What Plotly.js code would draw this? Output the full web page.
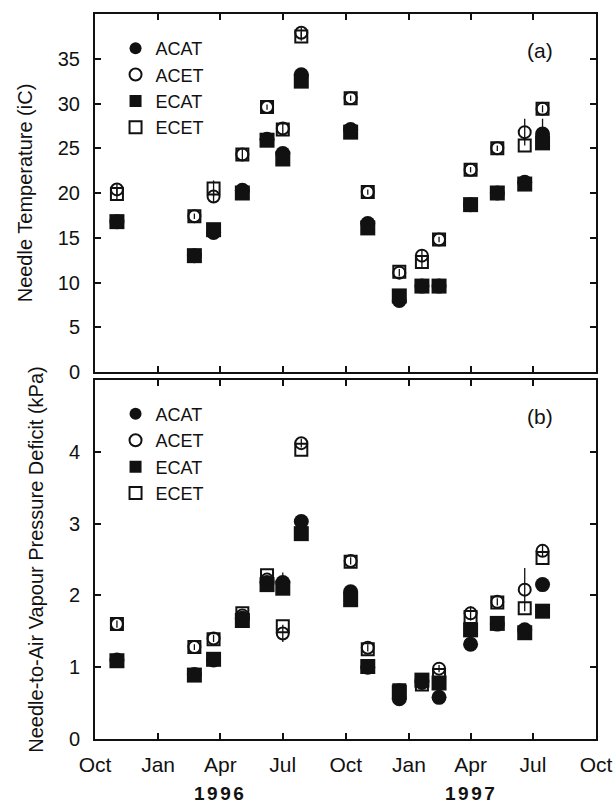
<!DOCTYPE html>
<html>
<head>
<meta charset="utf-8">
<script src="https://cdn.plot.ly/plotly-3.0.1.min.js"></script>
<style>html,body{margin:0;padding:0;background:#fff;}#chart{width:616px;height:803px;}</style>
</head>
<body>
<div id="chart"></div>
<script>
// ---- Data ----
const sampleDates = ['1995-11-02','1996-02-23','1996-03-22','1996-05-03','1996-06-08','1996-07-01','1996-07-28',
  '1996-10-08','1996-11-02','1996-12-18','1997-01-20','1997-02-14','1997-04-01','1997-05-10','1997-06-19','1997-07-15'];

// (a) Needle temperature (°C)
const tempACAT = [16.8, 13.0, 15.6, 20.3, 26.0, 24.4, 33.2, 27.1, 16.6, 8.0, 9.6, 9.6, 18.7, 20.0, 21.2, 26.6];
const tempACET = [20.4, 17.4, 19.6, 24.3, 29.6, 27.2, 37.9, 30.6, 20.1, 11.1, 13.0, 14.8, 22.6, 25.0, 26.8, 29.4];
const tempECAT = [16.8, 13.0, 15.9, 20.0, 25.9, 23.8, 32.5, 26.8, 16.1, 8.5, 9.6, 9.6, 18.7, 20.0, 21.0, 25.6];
const tempECET = [19.9, 17.4, 20.5, 24.3, 29.6, 27.1, 37.5, 30.6, 20.1, 11.2, 12.3, 14.8, 22.6, 25.0, 25.3, 29.4];
const tempACATerr = [0, 0, 0, 0, 0, 0.6, 0, 0, 0, 0, 0, 0, 0, 0, 0, 1.7];
const tempACETerr = [0.7, 0.3, 0.7, 0.6, 0.3, 0.6, 0.6, 0.3, 0.3, 0.4, 0.7, 0.3, 0.3, 0.3, 1.5, 0.4];
const tempECETerr = [0.6, 0, 0.9, 0, 0, 0, 0.5, 0, 0, 0, 0.6, 0, 0, 0, 0, 0];

// (b) Needle-to-air vapour pressure deficit (kPa)
const vpdACAT = [1.10, 0.90, 1.10, 1.68, 2.18, 2.18, 3.03, 2.05, 1.00, 0.56, 0.80, 0.58, 1.32, 1.60, 1.52, 2.15];
const vpdACET = [1.60, 1.28, 1.40, 1.72, 2.22, 1.47, 4.12, 2.48, 1.27, 0.68, 0.78, 0.98, 1.75, 1.91, 2.08, 2.62];
const vpdECAT = [1.09, 0.89, 1.11, 1.65, 2.15, 2.10, 2.86, 1.94, 1.01, 0.65, 0.82, 0.78, 1.52, 1.61, 1.48, 1.78];
const vpdECET = [1.60, 1.28, 1.39, 1.75, 2.28, 1.57, 4.03, 2.47, 1.25, 0.68, 0.76, 0.89, 1.70, 1.90, 1.82, 2.52];
const vpdACATerr = [0, 0, 0, 0, 0, 0.14, 0, 0, 0, 0, 0, 0, 0, 0, 0, 0];
const vpdACETerr = [0.05, 0.04, 0.05, 0.05, 0.05, 0.12, 0.06, 0.05, 0.05, 0.03, 0.03, 0.05, 0.1, 0.05, 0.3, 0.08];

const seriesNames = ['ACAT', 'ACET', 'ECAT', 'ECET'];
const xTickVals = ['1995-10-01','1996-01-01','1996-04-01','1996-07-01','1996-10-01','1997-01-01','1997-04-01','1997-07-01','1997-10-01'];
const xTickText = ['Oct','Jan','Apr','Jul','Oct','Jan','Apr','Jul','Oct'];
const yearLabels = ['1996', '1997'];
const yearPositions = ['1996-04-01', '1997-04-01'];
const tempTicks = [0, 5, 10, 15, 20, 25, 30, 35];
const vpdTicks = [0, 1, 2, 3, 4];

// ---- Styling ----
const FONT = 'Liberation Sans, Arial, Helvetica, sans-serif';
const styles = {
  ACAT: {symbol: 'circle', size: 15, color: '#111', line: {width: 0}},
  ACET: {symbol: 'circle-open', size: 12, color: '#111', line: {width: 2, color: '#111'}},
  ECAT: {symbol: 'square', size: 15, color: '#111', line: {width: 0}},
  ECET: {symbol: 'square-open', size: 12, color: '#111', line: {width: 2, color: '#111'}}
};
const drawOrder = ['ACAT', 'ECAT', 'ACET', 'ECET'];
const rank = {ACAT: 1, ACET: 2, ECAT: 3, ECET: 4};

function makeTrace(name, y, err, xa, ya, legend) {
  const t = {
    type: 'scatter', mode: 'markers', name: name,
    x: sampleDates, y: y, xaxis: xa, yaxis: ya,
    marker: styles[name], legend: legend, legendrank: rank[name],
    cliponaxis: false
  };
  if (err) t.error_y = {type: 'data', array: err, visible: true, color: '#111', thickness: 1.3, width: 0};
  return t;
}
const tempData = {ACAT: [tempACAT, tempACATerr], ACET: [tempACET, tempACETerr], ECAT: [tempECAT, null], ECET: [tempECET, tempECETerr]};
const vpdData = {ACAT: [vpdACAT, vpdACATerr], ACET: [vpdACET, vpdACETerr], ECAT: [vpdECAT, null], ECET: [vpdECET, null]};

const traces = [];
drawOrder.forEach(n => traces.push(makeTrace(n, tempData[n][0], tempData[n][1], 'x2', 'y2', 'legend')));
drawOrder.forEach(n => traces.push(makeTrace(n, vpdData[n][0], vpdData[n][1], 'x', 'y', 'legend2')));

const axisCommon = {
  showline: true, linewidth: 2, linecolor: '#111', mirror: 'ticks',
  ticks: 'inside', ticklen: 6, tickwidth: 2, tickcolor: '#111',
  showgrid: false, zeroline: false,
  tickfont: {family: FONT, size: 20, color: '#111'}
};
const legendCommon = {
  x: 0.041, xanchor: 'left', bgcolor: 'rgba(0,0,0,0)', borderwidth: 0,
  itemsizing: 'constant', tracegroupgap: 0,
  font: {family: FONT, size: 18, color: '#111'}
};
const titleFont = {family: FONT, size: 20, color: '#111'};

const layout = {
  width: 616, height: 803,
  margin: {l: 95, r: 20, t: 14, b: 64},
  paper_bgcolor: '#fff', plot_bgcolor: '#fff',
  font: {family: FONT, color: '#111'},
  showlegend: true,
  xaxis: Object.assign({}, axisCommon, {
    type: 'date', range: ['1995-10-01', '1997-10-01'], anchor: 'y',
    tickmode: 'array', tickvals: xTickVals, ticktext: xTickText, ticklabelstandoff: 6,
    tickfont: {family: FONT, size: 21, color: '#111'}
  }),
  xaxis2: Object.assign({}, axisCommon, {
    type: 'date', range: ['1995-10-01', '1997-10-01'], anchor: 'y2', matches: 'x',
    tickmode: 'array', tickvals: xTickVals, showticklabels: false
  }),
  yaxis: Object.assign({}, axisCommon, {
    domain: [0, 0.4952], range: [0, 5], tickmode: 'array', tickvals: vpdTicks, anchor: 'x',
    ticklabelstandoff: 9,
    title: {text: 'Needle-to-Air Vapour Pressure Deficit (kPa)', font: titleFont, standoff: 20}
  }),
  yaxis2: Object.assign({}, axisCommon, {
    domain: [0.5062, 1], range: [0, 40], tickmode: 'array', tickvals: tempTicks, anchor: 'x2',
    ticklabelstandoff: 9,
    title: {text: 'Needle Temperature (iC)', font: titleFont, standoff: 20}
  }),
  legend: Object.assign({}, legendCommon, {y: 0.978, yanchor: 'top'}),
  legend2: Object.assign({}, legendCommon, {y: 0.4736, yanchor: 'top'}),
  annotations: [
    {text: '(a)', xref: 'paper', yref: 'paper', x: 0.888, y: 0.950, xanchor: 'center', yanchor: 'middle',
     showarrow: false, font: {family: FONT, size: 21, color: '#111'}},
    {text: '(b)', xref: 'paper', yref: 'paper', x: 0.888, y: 0.4446, xanchor: 'center', yanchor: 'middle',
     showarrow: false, font: {family: FONT, size: 21, color: '#111'}}
  ].concat(yearLabels.map((yr, i) => ({
    text: yr, xref: 'x', yref: 'paper', x: yearPositions[i], y: -0.0745, xanchor: 'center', yanchor: 'middle', showarrow: false,
    font: {family: FONT, size: 19, color: '#111', weight: 'bold'}
  })))
};

Plotly.newPlot('chart', traces, layout, {displayModeBar: false, staticPlot: true}).then(gd => {
  gd.querySelectorAll('.annotation-text').forEach(el => {
    if (yearLabels.indexOf(el.textContent) >= 0) el.style.letterSpacing = '2.5px';
  });
});
</script>
</body>
</html>
